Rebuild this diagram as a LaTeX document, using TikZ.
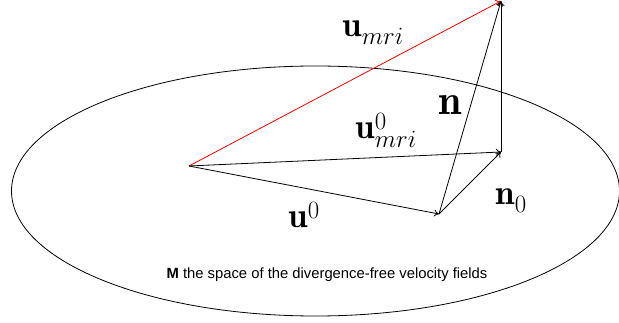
\documentclass[tikz,border=0pt]{standalone}
\usepackage{fontspec}
\newfontfamily\helv{Liberation Sans}
\usetikzlibrary{arrows.meta}
\begin{document}
\begin{tikzpicture}[x=1pt,y=-1pt,
  vec/.style={-{To[length=5pt,width=7pt]},line width=0.8pt},
  lbl/.style={anchor=base,inner sep=0pt,font=\fontsize{35}{42}\selectfont},
  biglbl/.style={anchor=base,inner sep=0pt,font=\fontsize{42}{50}\selectfont}]
\useasboundingbox (0,0) rectangle (619,323);
\draw[line width=0.8pt] (315.5,191) ellipse [x radius=304, y radius=125];
\coordinate (O) at (189,166);
\coordinate (A) at (439,214);
\coordinate (B) at (501,152);
\coordinate (T) at (501,1);
\draw[vec,red] (O) -- (T);
\draw[vec] (O) -- (A);
\draw[vec] (O) -- (B);
\draw[vec] (A) -- (B);
\draw[vec] (A) -- (T);
\draw[vec] (B) -- (T);
\node[lbl] (umri) at (373,37) {$\mathbf{u}_{mri}$};
\node[biglbl] (n) at (450,115) {$\mathbf{n}$};
\node[lbl] (u0mri) at (386,139) {$\mathbf{u}^0_{mri}$};
\node[lbl] (n0) at (511,205) {$\mathbf{n}_0$};
\node[lbl] (u0) at (304,228) {$\mathbf{u}^0$};
\node[anchor=base,inner sep=0pt,font=\helv\fontsize{14.8}{17}\selectfont] (M) at (327,279) {\textbf{M} the space of the divergence-free velocity fields};
\end{tikzpicture}
\end{document}
